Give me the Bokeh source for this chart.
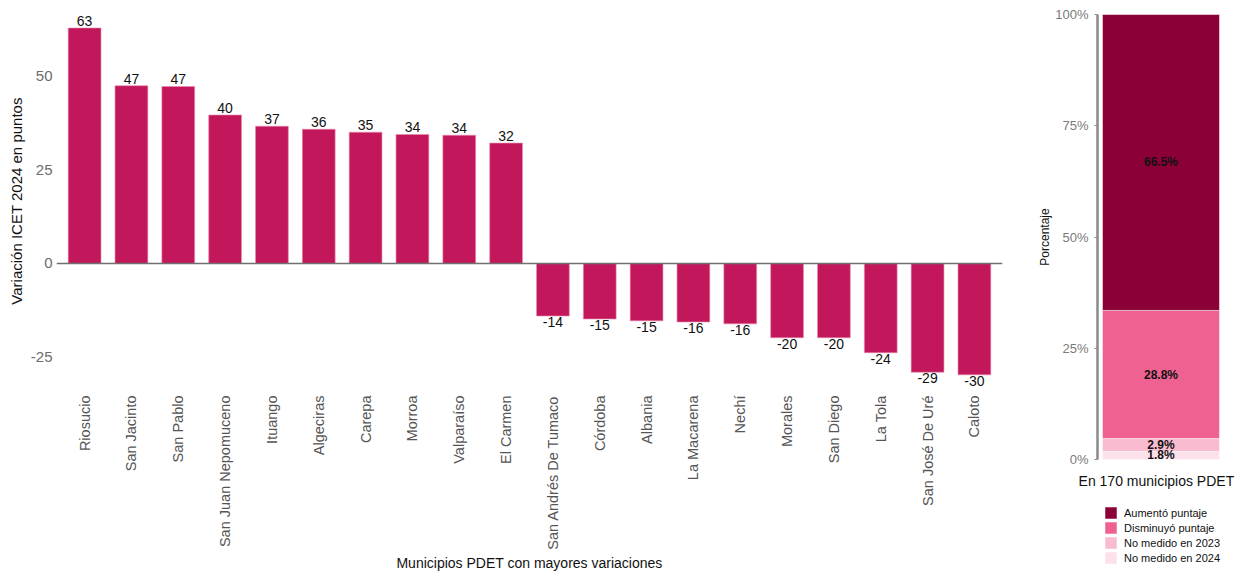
import math
from bokeh.plotting import figure
from bokeh.models import (FactorRange, Range1d, FixedTicker, Span, Legend, LegendItem,
                          ColumnDataSource, PrintfTickFormatter)
from bokeh.layouts import row
from bokeh.embed import file_html
from bokeh.resources import INLINE
from bokeh.core.properties import value

# ---------------- data ----------------
municipios = ["Riosucio", "San Jacinto", "San Pablo", "San Juan Nepomuceno", "Ituango",
              "Algeciras", "Carepa", "Morroa", "Valparaíso", "El Carmen",
              "San Andrés De Tumaco", "Córdoba", "Albania", "La Macarena", "Nechí",
              "Morales", "San Diego", "La Tola", "San José De Uré", "Caloto"]
variacion = [62.8, 47.4, 47.2, 39.6, 36.6, 35.8, 35.0, 34.4, 34.2, 32.1,
             -14.0, -14.8, -15.3, -15.6, -16.1, -19.8, -19.8, -23.8, -29.0, -29.7]
y_ticks = [-25, 0, 25, 50]

categoria = ["En 170 municipios PDET"]
estados = ["No medido en 2024", "No medido en 2023", "Disminuyó puntaje", "Aumentó puntaje"]  # bottom -> top
porcentajes = [1.8, 2.9, 28.8, 66.5]
colores = ["#FDE1EA", "#F8BBCF", "#EF6191", "#8C0038"]
pct_ticks = [0, 25, 50, 75, 100]

FONT = "Liberation Sans"
BAR = "#C2185B"

# ---------------- left chart ----------------
p = figure(x_range=FactorRange(factors=municipios, range_padding=0.1, range_padding_units="absolute"),
           y_range=Range1d(-34.67, 68.0), frame_width=946, frame_height=385,
           output_backend="svg", toolbar_location=None,
           min_border_left=56, min_border_right=28, min_border_top=8, min_border_bottom=178)
p.outline_line_color = None
p.xgrid.visible = False
p.ygrid.visible = False

src = ColumnDataSource(dict(m=municipios, v=variacion))
p.vbar(x="m", top="v", bottom=0, width=0.7, source=src, fill_color=BAR, line_color="#E98AAE", line_width=0.6)

pos = [(m, v) for m, v in zip(municipios, variacion) if v >= 0]
neg = [(m, v) for m, v in zip(municipios, variacion) if v < 0]
src_pos = ColumnDataSource(dict(m=[a for a, _ in pos], v=[b for _, b in pos], t=[f"{round(b):d}" for _, b in pos]))
src_neg = ColumnDataSource(dict(m=[a for a, _ in neg], v=[b for _, b in neg], t=[f"{round(b):d}" for _, b in neg]))
p.text(x="m", y="v", text="t", source=src_pos, text_align="center", text_baseline="bottom", y_offset=-2,
       text_font=value(FONT), text_font_size="14px", text_color="#111111")
p.text(x="m", y="v", text="t", source=src_neg, text_align="center", text_baseline="top", y_offset=1,
       text_font=value(FONT), text_font_size="14px", text_color="#111111")

p.add_layout(Span(location=0, dimension="width", line_color="#707070", line_width=1.5))

p.yaxis.ticker = FixedTicker(ticks=y_ticks)
p.yaxis.formatter = PrintfTickFormatter(format="%d")
p.yaxis.axis_line_color = None
p.yaxis.major_tick_line_color = None
p.yaxis.major_tick_out = 0
p.yaxis.major_tick_in = 0
p.yaxis.minor_tick_line_color = None
p.yaxis.minor_tick_out = 0
p.yaxis.major_label_standoff = 4
p.yaxis.major_label_text_font = FONT
p.yaxis.major_label_text_font_size = "15px"
p.yaxis.major_label_text_color = "#6b6b6b"
p.yaxis.axis_label = "Variación ICET 2024 en puntos"
p.yaxis.axis_label_text_font = FONT
p.yaxis.axis_label_text_font_size = "15px"
p.yaxis.axis_label_text_font_style = "normal"
p.yaxis.axis_label_text_color = "#111111"
p.yaxis.axis_label_standoff = 3

p.xaxis.axis_line_color = None
p.xaxis.major_tick_line_color = None
p.xaxis.major_tick_out = 0
p.xaxis.major_tick_in = 0
p.xaxis.minor_tick_line_color = None
p.xaxis.major_label_orientation = math.pi / 2
p.xaxis.major_label_standoff = 2
p.xaxis.major_label_text_font = FONT
p.xaxis.major_label_text_font_size = "14.5px"
p.xaxis.major_label_text_color = "#555555"
p.xaxis.axis_label = "Municipios PDET con mayores variaciones"
p.xaxis.axis_label_text_font = FONT
p.xaxis.axis_label_text_font_size = "14px"
p.xaxis.axis_label_text_font_style = "normal"
p.xaxis.axis_label_text_color = "#111111"
p.xaxis.axis_label_standoff = 2

# ---------------- right chart ----------------
# the frame covers the whole canvas; axes sit at fixed locations inside it
x_pos = list(range(len(categoria)))
Y_AXIS_X = -0.4885
q = figure(x_range=Range1d(-1.0038, 0.5808), y_range=Range1d(-25.17, 101.35),
           frame_width=206, frame_height=563, output_backend="svg", toolbar_location=None,
           min_border_left=0, min_border_right=0, min_border_top=8, min_border_bottom=0)
q.outline_line_color = None
q.xgrid.visible = False
q.ygrid.visible = False

stack_src = {"x": x_pos}
for e, v in zip(estados, porcentajes):
    stack_src[e] = [v]
rends = q.vbar_stack(estados, x="x", width=0.9, source=ColumnDataSource(stack_src),
                     color=colores, line_color="white", line_width=0.5)

mids = []
acc = 0.0
for v in porcentajes:
    mids.append(acc + v / 2)
    acc += v
lbl_src = ColumnDataSource(dict(x=x_pos * len(porcentajes), y=mids,
                                t=[f"{v:.1f}%" for v in porcentajes]))
q.text(x="x", y="y", text="t", source=lbl_src,
       text_align="center", text_baseline="middle", text_font=value(FONT),
       text_font_size="12px", text_font_style="bold", text_color="#111111")

# y-axis title, centred on the 0-100 % scale
q.text(x=[Y_AXIS_X], y=[(pct_ticks[0] + pct_ticks[-1]) / 2], text=["Porcentaje"], angle=math.pi / 2,
       x_offset=-52, text_align="center", text_baseline="middle", text_font=value(FONT),
       text_font_size="12px", text_color="#111111")

q.yaxis.fixed_location = Y_AXIS_X
q.yaxis.ticker = FixedTicker(ticks=pct_ticks)
q.yaxis.bounds = (0, 100)
q.yaxis.formatter = PrintfTickFormatter(format="%d%%")
q.yaxis.axis_line_color = "#8a8a8a"
q.yaxis.axis_line_width = 2.5
q.yaxis.major_tick_line_color = "#8a8a8a"
q.yaxis.major_tick_out = 3
q.yaxis.major_tick_in = 0
q.yaxis.minor_tick_line_color = None
q.yaxis.minor_tick_out = 0
q.yaxis.major_label_standoff = 6
q.yaxis.major_label_text_font = FONT
q.yaxis.major_label_text_font_size = "13px"
q.yaxis.major_label_text_color = "#7a7a7a"

q.xaxis.fixed_location = 0
q.xaxis.ticker = FixedTicker(ticks=x_pos)
q.xaxis.major_label_overrides = {i: c for i, c in zip(x_pos, categoria)}
q.xaxis.axis_line_color = None
q.xaxis.major_tick_line_color = None
q.xaxis.major_tick_out = 0
q.xaxis.major_tick_in = 0
q.xaxis.minor_tick_line_color = None
q.xaxis.minor_tick_out = 0
q.xaxis.major_label_standoff = 14
q.xaxis.major_label_text_font = FONT
q.xaxis.major_label_text_font_size = "14px"
q.xaxis.major_label_text_color = "#111111"

items = [LegendItem(label=e, renderers=[r]) for e, r in zip(estados[::-1], rends[::-1])]
legend = Legend(items=items, location=(73, 6), orientation="vertical",
                glyph_width=15, glyph_height=15, label_height=15, spacing=0,
                padding=2, margin=0, border_line_color=None, background_fill_alpha=0,
                label_text_font=FONT, label_text_font_size="11px", label_text_color="#111111",
                label_standoff=6)
q.add_layout(legend, "center")

layout = row(p, q, spacing=0)
open("out.html", "w").write(file_html(layout, INLINE))
